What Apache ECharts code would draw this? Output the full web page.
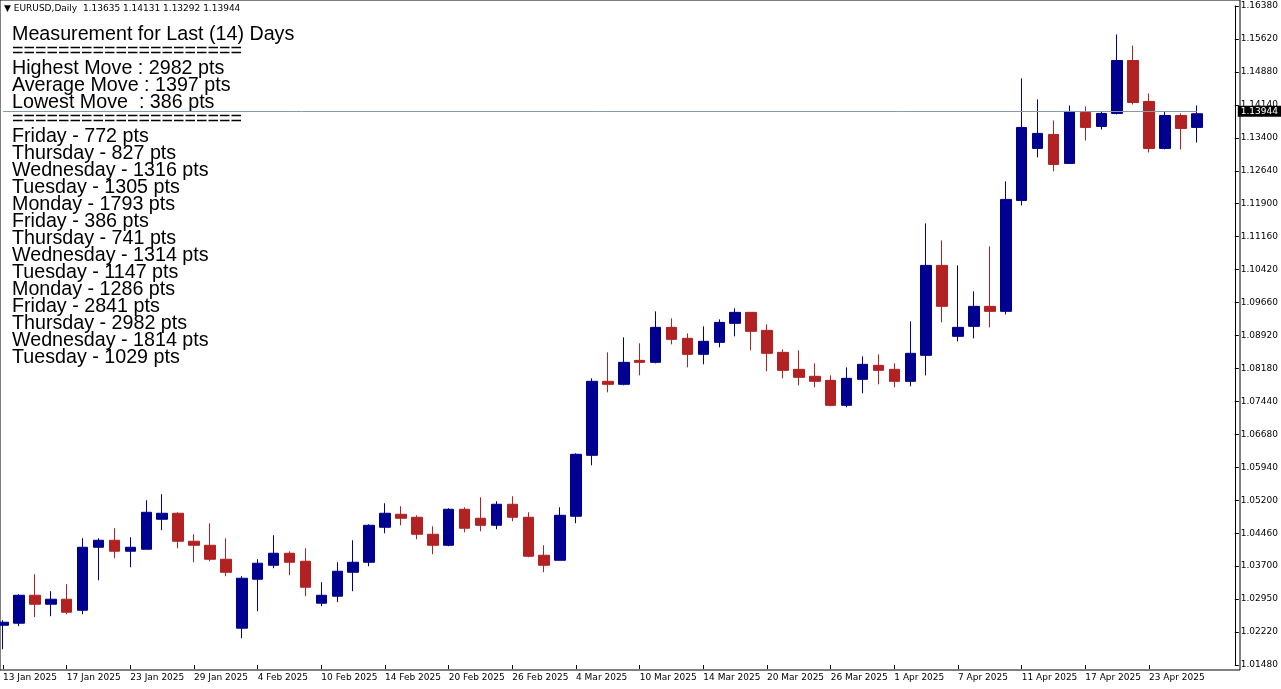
<!DOCTYPE html>
<html><head><meta charset="utf-8">
<script src="https://cdn.jsdelivr.net/npm/echarts@6/dist/echarts.min.js"></script>
<style>html,body{margin:0;padding:0;background:#fff}#c{width:1281px;height:689px}</style>
</head><body><div id="c"></div>
<script>
// [open, close, low, high]
const ohlc = [
[1.02379,1.02447,1.01837,1.02492],[1.02425,1.03057,1.02357,1.0308],[1.03057,1.02854,1.0256,1.03532],[1.02854,1.02967,1.02583,1.03148],
[1.02967,1.02673,1.02628,1.03306],[1.02718,1.04142,1.02628,1.04346],[1.04142,1.043,1.03396,1.04346],[1.043,1.04052,1.03894,1.04572],
[1.04052,1.04142,1.0369,1.04368],[1.04097,1.04933,1.04097,1.05204],[1.04775,1.04911,1.04526,1.0534],[1.04911,1.04278,1.0412,1.04933],
[1.04278,1.04187,1.03803,1.04436],[1.04187,1.03871,1.03826,1.04685],[1.03871,1.03577,1.03487,1.04346],[1.02312,1.03442,1.02086,1.03487],
[1.03419,1.03781,1.02696,1.03871],[1.03735,1.04007,1.03668,1.04413],[1.04007,1.03803,1.0351,1.04052],[1.03826,1.03238,1.03035,1.0412],
[1.02877,1.03057,1.02809,1.03351],[1.03035,1.036,1.02899,1.03803],[1.03577,1.03803,1.03148,1.043],[1.03803,1.04639,1.03713,1.04662],
[1.04594,1.04911,1.04459,1.05137],[1.04888,1.04798,1.04639,1.05069],[1.0482,1.04436,1.04323,1.04865],[1.04436,1.04187,1.03984,1.04617],
[1.04187,1.05001,1.04165,1.05024],[1.05001,1.04572,1.04481,1.05046],[1.04798,1.04639,1.04504,1.05272],[1.04639,1.05114,1.04549,1.05182],
[1.05114,1.0482,1.0473,1.05295],[1.0482,1.03939,1.03916,1.04933],[1.03961,1.03735,1.03577,1.04187],[1.03848,1.04865,1.03848,1.05046],
[1.04843,1.06244,1.04685,1.06267],[1.06221,1.07894,1.05995,1.07962],[1.07894,1.07826,1.07645,1.08549],[1.07826,1.08323,1.07803,1.08888],
[1.08368,1.08323,1.08029,1.08753],[1.08323,1.09114,1.08301,1.09476],[1.09114,1.08843,1.0873,1.09318],[1.08866,1.08504,1.0821,1.08979],
[1.08504,1.08798,1.08278,1.09137],[1.08775,1.09227,1.08662,1.09295],[1.09205,1.09453,1.08911,1.09544],[1.09453,1.09024,1.08594,1.09453],
[1.09046,1.08527,1.0812,1.09182],[1.08549,1.08142,1.07962,1.08617],[1.08165,1.07984,1.07803,1.08594],[1.08007,1.07894,1.07758,1.08301],
[1.07916,1.07351,1.07329,1.08029],[1.07351,1.07962,1.07306,1.0821],[1.07939,1.08278,1.07623,1.08459],[1.08255,1.08142,1.07826,1.08504],
[1.08165,1.07894,1.07758,1.08301],[1.07894,1.08527,1.07781,1.0925],[1.08481,1.10515,1.08029,1.11465],[1.10515,1.09589,1.09227,1.1108],
[1.08911,1.09114,1.08798,1.10515],[1.09137,1.09589,1.08866,1.09928],[1.09589,1.09476,1.09114,1.10945],[1.09476,1.12007,1.09408,1.12414],
[1.11984,1.13634,1.11871,1.14742],[1.1316,1.13499,1.12956,1.14267],[1.13476,1.12798,1.1264,1.13792],[1.12821,1.13996,1.12821,1.14131],
[1.13973,1.13634,1.1334,1.14109],[1.13657,1.13951,1.13589,1.13996],[1.13951,1.15148,1.13928,1.15736],[1.15148,1.14199,1.14154,1.15487],
[1.14222,1.1316,1.13069,1.14403],[1.1316,1.13905,1.13137,1.13996],[1.13905,1.13612,1.13137,1.13951],[1.13635,1.13944,1.13292,1.14131]
];
const startDate = '2025-01-13';
const tickLabels = ['1.01480','1.02220','1.02950','1.03700','1.04460','1.05200','1.05940','1.06680','1.07440','1.08180','1.08920','1.09660','1.10420','1.11160','1.11900','1.12640','1.13400','1.14140','1.14880','1.15620','1.16380'];
const lastPrice = 1.13944;
const infoLines = ['Measurement for Last (14) Days','====================','Highest Move : 2982 pts','Average Move : 1397 pts','Lowest Move  : 386 pts','====================',
'Friday - 772 pts','Thursday - 827 pts','Wednesday - 1316 pts','Tuesday - 1305 pts','Monday - 1793 pts','Friday - 386 pts','Thursday - 741 pts',
'Wednesday - 1314 pts','Tuesday - 1147 pts','Monday - 1286 pts','Friday - 2841 pts','Thursday - 2982 pts','Wednesday - 1814 pts','Tuesday - 1029 pts'];
const header = '\u25BC EURUSD,Daily  1.13635 1.14131 1.13292 1.13944';

const months=['Jan','Feb','Mar','Apr','May','Jun','Jul','Aug','Sep','Oct','Nov','Dec'];
const dates=[]; let d=new Date(startDate+'T00:00:00Z');
while(dates.length<ohlc.length){const w=d.getUTCDay(); if(w!==0&&w!==6) dates.push(d.getUTCDate()+' '+months[d.getUTCMonth()]+' '+d.getUTCFullYear()); d=new Date(d.getTime()+86400000);}

const UP='#000090', DN='#B22222';
const ch=echarts.init(document.getElementById('c'));
const graphics=[{type:'text',left:4,top:4,style:{text:header,font:'9px "DejaVu Sans"',fill:'#000'}}];
infoLines.forEach((t,i)=>graphics.push({type:'text',left:12,top:25+i*17,style:{text:t,font:'19.7px "Liberation Sans"',fill:'#000'}}));
graphics.push({type:'rect',shape:{x:0,y:0,width:1240,height:670},style:{fill:'none',stroke:'#000',lineWidth:1},silent:true,z:-1});
ch.setOption({
  animation:false,
  grid:{left:2,right:79,top:6,bottom:24},
  graphic:graphics,
  xAxis:{type:'category',boundaryGap:false,data:dates,axisLine:{show:false},axisTick:{show:true,interval:3,length:4,lineStyle:{color:'#000'}},
    axisLabel:{interval:3,align:'left',margin:8,fontSize:9,fontFamily:'DejaVu Sans',color:'#000'},splitLine:{show:false}},
  yAxis:{type:'value',position:'right',offset:38,min:1.0148,max:1.1638,interval:0.00745,scale:true,
    axisLine:{show:true,lineStyle:{color:'#000'}},axisTick:{show:true,length:4,lineStyle:{color:'#000'}},splitLine:{show:false},
    axisLabel:{fontSize:9,fontFamily:'DejaVu Sans',color:'#000',margin:6,formatter:v=>tickLabels[Math.round((v-1.0148)/0.00745)]||''}},
  series:[{type:'candlestick',data:ohlc,barWidth:11,clip:false,
    itemStyle:{color:UP,color0:DN,borderColor:UP,borderColor0:DN,borderWidth:1},
    markLine:{silent:true,symbol:'none',data:[{yAxis:lastPrice}],lineStyle:{color:'#8a9aa8',type:'solid',width:1},
      label:{position:'end',distance:41,formatter:'1.13944',backgroundColor:'#000',color:'#fff',fontSize:9,fontFamily:'DejaVu Sans',padding:[1,3]}}}]
});
</script></body></html>
